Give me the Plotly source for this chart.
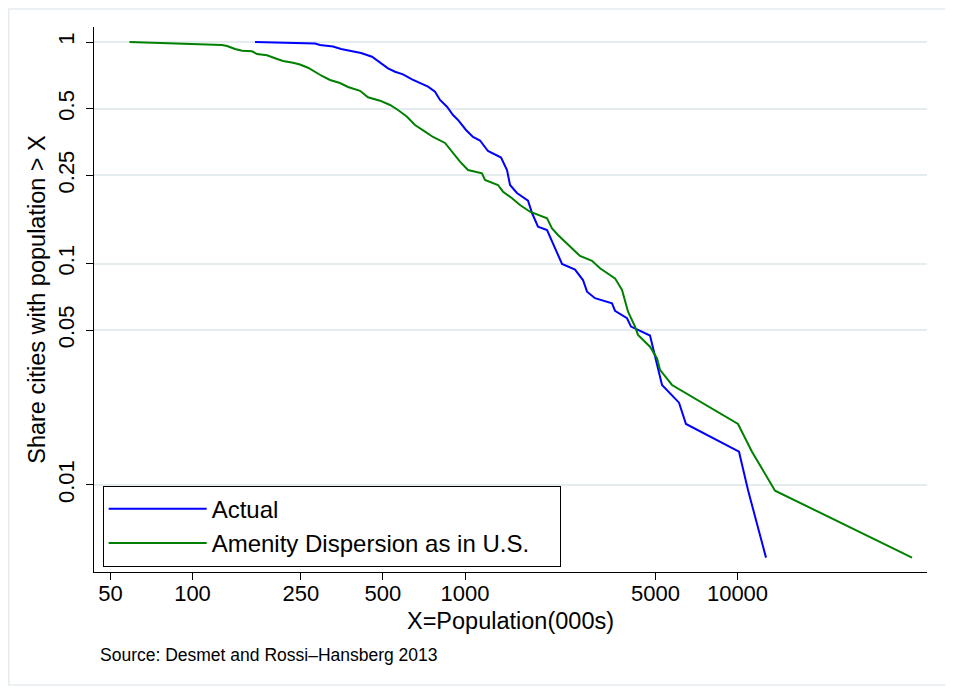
import plotly.graph_objects as go

# ---- data ----
actual_pop = [169.6, 281.5, 293.8, 327.8, 350.8, 378.4, 415.3, 455.7, 487.6, 521.8,
              553.6, 592.2, 639.1, 683.9, 731.6, 776.1, 809.7, 858.8, 903.6, 942.6,
              1008.5, 1070, 1135, 1214, 1356, 1426, 1463, 1551, 1703, 1762,
              1853, 2000, 2140, 2270, 2533, 2710, 2804, 3000, 3463, 3552,
              3931, 4066, 4774, 5284, 6100, 6471, 10127, 10927, 12724]
actual_share = [1.0, 0.9845, 0.9693, 0.9543, 0.9298, 0.9135, 0.8919, 0.8582, 0.8063, 0.7608,
                0.7343, 0.7147, 0.6785, 0.6550, 0.6283, 0.5967, 0.5473, 0.5104, 0.4682, 0.4445,
                0.4007, 0.3725, 0.3592, 0.3220, 0.3010, 0.2643, 0.2262, 0.2081, 0.1921, 0.1690,
                0.1466, 0.1416, 0.1181, 0.0995, 0.0939, 0.0842, 0.0746, 0.0697, 0.0661, 0.0612,
                0.0566, 0.0519, 0.0473, 0.02828, 0.02353, 0.01886, 0.01414, 0.00949, 0.00470]

amenity_pop = [58.7, 84.1, 115.9, 128.3, 133.9, 143.2, 152.0, 165.3, 172.5, 187.7,
               200.9, 214.8, 233.8, 248.0, 265.4, 276.8, 298.7, 319.6, 347.7, 372.1,
               411.9, 440.6, 487.6, 530.7, 567.7, 612.7, 655.4, 713.3, 763.1, 844.5,
               896.1, 958.6, 1026, 1154, 1184, 1321, 1379, 1488, 1591, 1732,
               2000, 2086, 2194, 2428, 2642, 2925, 3129, 3552, 3769, 3965,
               4206, 4314, 4774, 5066, 5195, 5751, 10042, 11302, 13731, 43696]
amenity_share = [1.0, 0.9866, 0.9764, 0.9693, 0.9593, 0.9298, 0.9135, 0.9080, 0.8826, 0.8708,
                 0.8441, 0.8208, 0.8063, 0.7915, 0.7655, 0.7420, 0.7023, 0.6737, 0.6530, 0.6263,
                 0.6021, 0.5627, 0.5432, 0.5195, 0.4932, 0.4600, 0.4220, 0.3936, 0.3725, 0.3500,
                 0.3187, 0.2881, 0.2643, 0.2554, 0.2382, 0.2262, 0.2109, 0.1970, 0.1836, 0.1713,
                 0.1600, 0.1441, 0.1345, 0.1191, 0.1081, 0.1029, 0.0951, 0.0857, 0.0759, 0.0606,
                 0.0519, 0.0476, 0.0421, 0.0373, 0.0331, 0.02828, 0.01886, 0.01414, 0.00943, 0.00470]

x_ticks = [50, 100, 250, 500, 1000, 5000, 10000]
x_tick_labels = ["50", "100", "250", "500", "1000", "5000", "10000"]
y_ticks = [0.01, 0.05, 0.1, 0.25, 0.5, 1]
y_tick_labels = ["0.01", "0.05", "0.1", "0.25", "0.5", "1"]

series_names = ["Actual", "Amenity Dispersion as in U.S."]

# ---- styling ----
FONT = "Liberation Sans, Arial, Helvetica, sans-serif"
BLUE = "#0000ff"
GREEN = "#008000"
GRID = "#e4ecef"

fig = go.Figure()
fig.add_trace(go.Scatter(x=actual_pop, y=actual_share, mode="lines", name=series_names[0],
                         line=dict(color=BLUE, width=2)))
fig.add_trace(go.Scatter(x=amenity_pop, y=amenity_share, mode="lines", name=series_names[1],
                         line=dict(color=GREEN, width=2)))

# page body adds an 8px offset, so the figure is 8px smaller and margins compensate
fig.update_layout(
    width=945, height=686,
    margin=dict(l=86, r=26, t=19, b=122, autoexpand=False),
    paper_bgcolor="white", plot_bgcolor="white",
    font=dict(family=FONT, color="black"),
    showlegend=True,
    legend=dict(x=0.0104, y=0.1583, xanchor="left", yanchor="top",
                orientation="h", entrywidth=343, entrywidthmode="pixels",
                bgcolor="white", bordercolor="black", borderwidth=1,
                font=dict(size=24, family=FONT), itemwidth=98,
                tracegroupgap=0),
    xaxis=dict(type="log", range=[1.6385, 4.6954],
               tickvals=x_ticks, ticktext=x_tick_labels,
               ticks="outside", ticklen=7, tickcolor="black", tickwidth=1,
               ticklabelstandoff=-5,
               showline=True, linecolor="black", linewidth=1,
               showgrid=False, zeroline=False,
               tickfont=dict(size=22),
               title=dict(text="X=Population(000s)", font=dict(size=23.5), standoff=7)),
    yaxis=dict(type="log", range=[-2.3928, 0.0677],
               tickvals=y_ticks, ticktext=y_tick_labels,
               ticks="outside", ticklen=7, tickcolor="black", tickwidth=1,
               tickangle=-90, ticklabelstandoff=3,
               showline=True, linecolor="black", linewidth=1,
               showgrid=True, gridcolor=GRID, gridwidth=1.5, zeroline=False,
               tickfont=dict(size=22),
               title=dict(text="Share cities with population > X", font=dict(size=23.5), standoff=1)),
)

fig.add_annotation(text="Source: Desmet and Rossi\u2013Hansberg 2013",
                   xref="paper", yref="paper", x=0.0048, y=-0.1523,
                   xanchor="left", yanchor="middle", showarrow=False,
                   font=dict(size=17.5, family=FONT))

# faint outer frame of the graph region
fig.add_shape(type="rect", xref="paper", yref="paper",
              x0=-0.1023, x1=1.0300, y0=-0.2073, y1=1.0330,
              line=dict(color=GRID, width=1.5), fillcolor="rgba(0,0,0,0)", layer="below")

fig.write_html("out.html")
